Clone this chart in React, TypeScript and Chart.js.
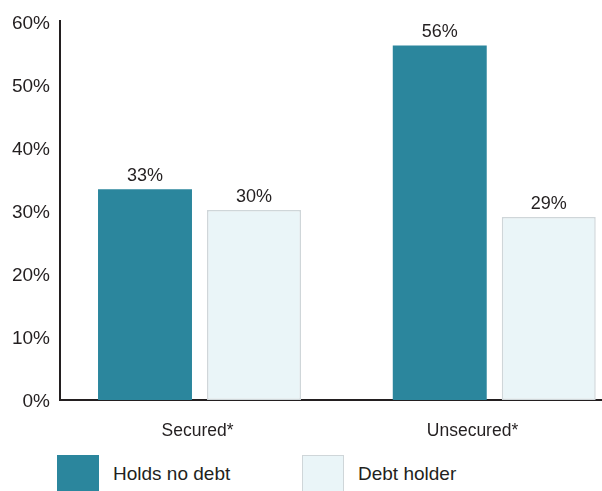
import React, { useEffect, useRef } from 'react';
import { Chart, registerables } from 'chart.js';

Chart.register(...registerables);

const categories = ['Secured*', 'Unsecured*'];
const seriesNames = ['Holds no debt', 'Debt holder'];
const holdsNoDebt = [33.4, 56.2];
const debtHolder = [30.1, 29.0];
const yMin = 0;
const yMax = 60;
const yStep = 10;

const TEAL = '#2b869d';
const LIGHT = '#eaf5f8';
const LIGHT_BORDER = '#cfd6d9';
const TEXT = '#231f20';
const FONT = "'Liberation Sans', Arial, Helvetica, sans-serif";

const valueLabels = {
  id: 'valueLabels',
  afterDatasetsDraw(chart: any) {
    const ctx = chart.ctx;
    ctx.save();
    ctx.font = `18px ${FONT}`;
    ctx.fillStyle = TEXT;
    ctx.textAlign = 'center';
    ctx.textBaseline = 'alphabetic';
    chart.data.datasets.forEach((ds: any, di: number) => {
      const meta = chart.getDatasetMeta(di);
      meta.data.forEach((el: any, i: number) => {
        const v = ds.data[i].y;
        ctx.fillText(Math.round(v) + '%', el.x, el.y - 8);
      });
    });
    ctx.restore();
  },
};

export default function App() {
  const ref = useRef<HTMLCanvasElement | null>(null);

  useEffect(() => {
    if (!ref.current) return;
    const chart = new Chart(ref.current, {
      type: 'bar',
      data: {
        labels: categories,
        datasets: [
          {
            label: seriesNames[0],
            data: categories.map((_, i) => ({ x: i, y: holdsNoDebt[i] })),
            backgroundColor: TEAL,
            borderWidth: 0,
            categoryPercentage: 0.7396,
            barPercentage: 0.862,
          },
          {
            label: seriesNames[1],
            data: categories.map((_, i) => ({ x: i, y: debtHolder[i] })),
            backgroundColor: LIGHT,
            borderColor: LIGHT_BORDER,
            borderWidth: 1.5,
            borderSkipped: false,
            categoryPercentage: 0.7396,
            barPercentage: 0.862,
          },
        ] as any,
      },
      options: {
        responsive: false,
        animation: false,
        devicePixelRatio: 1,
        layout: { padding: { top: 17, right: 2, left: 0, bottom: 0 } },
        plugins: {
          legend: { display: false },
          tooltip: { enabled: false },
        },
        scales: {
          x: {
            type: 'linear',
            display: false,
            min: -0.4733,
            max: 1.3927,
            offset: false,
            afterBuildTicks: (s: any) => {
              s.ticks = categories.map((_, i) => ({ value: i }));
            },
          },
          xl: {
            type: 'category',
            position: 'bottom',
            labels: categories,
            offset: true,
            grid: { display: false, drawTicks: false },
            border: { display: true, color: TEXT, width: 2 },
            ticks: { font: { family: FONT, size: 17.5 }, color: TEXT, padding: 21 },
            afterFit: (s: any) => {
              s.height = 55;
            },
          },
          y: {
            min: yMin,
            max: yMax,
            grid: { display: false, drawTicks: false },
            border: { display: true, color: TEXT, width: 2 },
            ticks: {
              stepSize: yStep,
              font: { family: FONT, size: 19 },
              color: TEXT,
              padding: 10,
              labelOffset: 2,
              callback: (v: any) => v + '%',
            },
            afterFit: (s: any) => {
              s.width = 60;
            },
          },
        } as any,
      },
      plugins: [valueLabels],
    });
    return () => chart.destroy();
  }, []);

  const colors = [TEAL, LIGHT];

  return (
    <div
      style={{
        position: 'fixed',
        left: 0,
        top: 0,
        width: 602,
        height: 491,
        overflow: 'hidden',
        background: '#fff',
      }}
    >
      <canvas ref={ref} width={612} height={455} style={{ display: 'block', width: 612, height: 455 }} />
      <div
        style={{
          position: 'absolute',
          left: 57,
          top: 455,
          display: 'flex',
          fontFamily: FONT,
          fontSize: 19,
          color: TEXT,
        }}
      >
        {seriesNames.map((name, i) => (
          <div
            key={name}
            style={{ display: 'flex', alignItems: 'center', height: 38, width: i === 0 ? 245 : 'auto' }}
          >
            <div
              style={{
                width: 42,
                height: 38,
                boxSizing: 'border-box',
                background: colors[i],
                border: i === 1 ? `1.5px solid ${LIGHT_BORDER}` : 'none',
              }}
            />
            <span style={{ marginLeft: 14, whiteSpace: 'nowrap' }}>{name}</span>
          </div>
        ))}
      </div>
    </div>
  );
}
